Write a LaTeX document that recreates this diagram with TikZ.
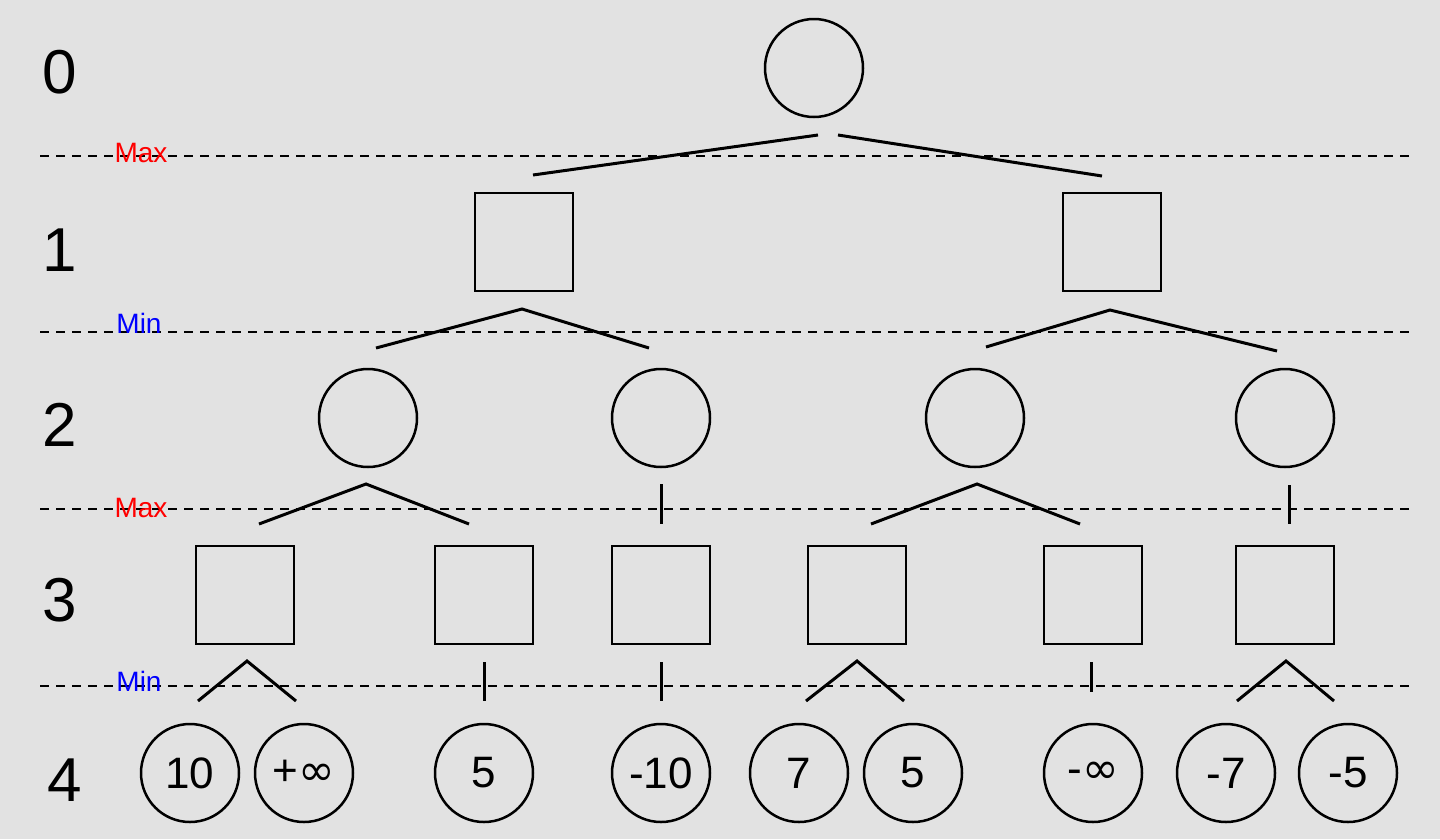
\documentclass[tikz,border=0pt]{standalone}
\usepackage{fontspec}
\setmainfont{Liberation Sans}
\newfontfamily\symf{DejaVu Sans}
\begin{document}
\begin{tikzpicture}[x=1pt,y=-1pt,
  cnode/.style={circle,draw,line width=2.5pt,minimum size=98pt,inner sep=0pt,font=\fontsize{44}{44}\selectfont},
  snode/.style={rectangle,draw,line width=2.5pt,minimum size=98pt,inner sep=0pt},
  edge/.style={line width=3pt},
  lvl/.style={font=\fontsize{62}{62}\selectfont},
  sep/.style={dashed,line width=1.3pt,dash pattern=on 9pt off 7pt},
  mx/.style={text=red,font=\fontsize{28}{28}\selectfont},
  mn/.style={text=blue,font=\fontsize{28}{28}\selectfont}]
\fill[gray!23] (0,0) rectangle (1440,839);
\useasboundingbox (0,0) rectangle (1440,839);
\node[lvl] (l0) at (60,72) {0};
\node[lvl] (l1) at (60,250) {1};
\node[lvl] (l2) at (60,425) {2};
\node[lvl] (l3) at (60,600) {3};
\node[lvl] (l4) at (65,780) {4};
\foreach \y in {156,332,509,686} \draw[sep] (40,\y) -- (1415,\y);
\node[mx] (m1) at (141,153) {Max};
\node[mn] (n1) at (139,323) {Min};
\node[mx] (m2) at (141,508) {Max};
\node[mn] (n2) at (139,681) {Min};
\node[cnode] (r) at (814,68) {};
\node[snode] (a) at (524,242) {};
\node[snode] (b) at (1112,242) {};
\node[cnode] (c1) at (368,418) {};
\node[cnode] (c2) at (661,418) {};
\node[cnode] (c3) at (975,418) {};
\node[cnode] (c4) at (1285,418) {};
\foreach \n/\x in {s1/245,s2/484,s3/661,s4/857,s5/1093,s6/1285} \node[snode] (\n) at (\x,595) {};
\node[cnode] (f1) at (190,773) {10};
\node[cnode] (f2) at (304,773) {+{\symf ∞}};
\node[cnode] (f3) at (484,773) {5};
\node[cnode] (f4) at (661,773) {-10};
\node[cnode] (f5) at (799,773) {7};
\node[cnode] (f6) at (913,773) {5};
\node[cnode] (f7) at (1093,773) {-{\symf ∞}};
\node[cnode] (f8) at (1226,773) {-7};
\node[cnode] (f9) at (1348,773) {-5};
% connectors
\coordinate (r1) at (818,135); \coordinate (r2) at (838,135);
\coordinate (ra) at (533,175); \coordinate (rb) at (1102,176);
\draw[edge] (r1) -- (ra); \draw[edge] (r2) -- (rb);
\coordinate (at) at (522,309); \coordinate (a1) at (376,348); \coordinate (a2) at (649,348);
\draw[edge] (a1) -- (at) -- (a2);
\coordinate (bt) at (1110,310); \coordinate (b1) at (986,347); \coordinate (b2) at (1277,351);
\draw[edge] (b1) -- (bt) -- (b2);
\coordinate (c1t) at (366,484); \coordinate (c1a) at (259,524); \coordinate (c1b) at (469,524);
\draw[edge] (c1a) -- (c1t) -- (c1b);
\coordinate (c2t) at (661,484); \coordinate (c2a) at (661,524); \draw[edge] (c2t) -- (c2a);
\coordinate (c3t) at (977,484); \coordinate (c3a) at (871,524); \coordinate (c3b) at (1080,524);
\draw[edge] (c3a) -- (c3t) -- (c3b);
\coordinate (c4t) at (1289,485); \coordinate (c4a) at (1289,524); \draw[edge] (c4t) -- (c4a);
\coordinate (s1t) at (247,661); \coordinate (s1a) at (198,701); \coordinate (s1b) at (296,701);
\draw[edge] (s1a) -- (s1t) -- (s1b);
\coordinate (s2t) at (484,662); \coordinate (s2a) at (484,701); \draw[edge] (s2t) -- (s2a);
\coordinate (s3t) at (661,662); \coordinate (s3a) at (661,701); \draw[edge] (s3t) -- (s3a);
\coordinate (s4t) at (857,661); \coordinate (s4a) at (806,701); \coordinate (s4b) at (904,701);
\draw[edge] (s4a) -- (s4t) -- (s4b);
\coordinate (s5t) at (1091,662); \coordinate (s5a) at (1091,692); \draw[edge] (s5t) -- (s5a);
\coordinate (s6t) at (1286,661); \coordinate (s6a) at (1237,701); \coordinate (s6b) at (1334,701);
\draw[edge] (s6a) -- (s6t) -- (s6b);
\end{tikzpicture}
\end{document}
